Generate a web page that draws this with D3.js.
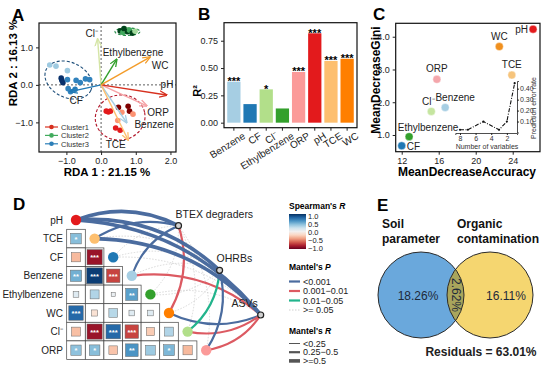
<!DOCTYPE html>
<html>
<head>
<meta charset="utf-8">
<script src="https://cdn.jsdelivr.net/npm/d3@7"></script>
<style>
  body { margin: 0; background: #fff; }
  svg { font-family: "Liberation Sans", Arial, sans-serif; }
</style>
</head>
<body>
<div id="chart"></div>
<script>
// ---------------- data ----------------
// shared variable order (panels B and C) and the Paired palette
var vars = ["Benzene", "CF", "Cl⁻", "Ethylbenzene", "ORP", "pH", "TCE", "WC"];
var varColors = ["#a6cee3", "#1f78b4", "#b2df8a", "#33a02c", "#fb9a99", "#e31a1c", "#fdbf6f", "#ff7f00"];

// A: RDA biplot arrows (end points) and label spots, data units
var arrowX = [0.74, -0.89, -0.10, 0.45, 1.32, 1.89, 0.78, 1.41];
var arrowY = [-1.01, -0.18, 1.22, 0.68, -0.56, -0.27, -1.47, 0.74];
var arrowLabelX = [1.53, -0.72, -0.27, 0.92, 1.64, 1.90, 0.42, 1.70];
var arrowLabelY = [-1.04, -0.40, 1.38, 0.89, -0.71, 0.02, -1.57, 0.53];
var clusters = ["Cluster1", "Cluster2", "Cluster3"];
var ptX = [0.15, 0.21, 0.27, 0.50, 0.60, 0.78, 0.82, 0.92, 0.42, 0.55, 0.48,
           0.55, 0.63, 0.70, 0.76, 0.82, 0.90, 0.98, 0.66,
           -1.48, -1.30, -0.97, -1.15, -1.13, -1.10, -0.97, -0.72, -0.45, -0.33, -0.95, -0.88, -0.60, -0.75];
var ptY = [-0.70, -0.72, -0.70, -0.60, -0.73, -0.57, -0.70, -0.78, -1.15, -1.21, -0.95,
           1.44, 1.40, 1.48, 1.42, 1.46, 1.38, 1.43, 1.50,
           0.53, 0.50, 0.38, 0.18, 0.12, 0.06, 0.14, 0.12, 0.16, 0.14, -0.10, -0.18, 0.06, -0.12];
var ptCluster = [0,0,0,0,0,0,0,0,0,0,0, 1,1,1,1,1,1,1,1, 2,2,2,2,2,2,2,2,2,2,2,2,2,2];
var ptShade = [1,1,1,2,0,2,2,0,1,1,0, 2,1,0,2,1,2,0,2, 0,0,0,2,2,2,1,1,1,1,1,1,1,1];
var ellCx = [0.55, 0.76, -0.94];
var ellCy = [-0.87, 1.42, 0.13];
var ellRx = [0.72, 0.36, 0.71];
var ellRy = [0.60, 0.10, 0.47];
var ellAngle = [-12, 0, 25];

// B: R2 of environmental fit
var r2 = [0.375, 0.17, 0.305, 0.13, 0.464, 0.818, 0.565, 0.585];
var r2Sig = ["***", "", "*", "", "***", "***", "***", "***"];

// C: random forest importance
var meanDecAcc = [16.7, 12.0, 15.2, 12.8, 15.8, 26.2, 23.9, 22.55];
var meanDecGini = [1.84, 0.67, 1.72, 0.95, 2.70, 4.23, 2.83, 3.70];
var nVariables = [8, 7, 5, 3, 2, 1];
var errorRate = [0.025, 0.025, 0.10, 0.025, 0.10, 0.45];

// D: Spearman matrix (lower triangle) and Mantel links
var dVars = ["pH", "TCE", "CF", "Benzene", "Ethylbenzene", "WC", "Cl⁻", "ORP"];
var dColors = ["#e31a1c", "#fdbf6f", "#1f78b4", "#a6cee3", "#33a02c", "#ff7f00", "#b2df8a", "#fb9a99"];
var corrR = [
  [],
  [0.42],
  [-0.32, -0.86],
  [0.48, 0.95, -0.68],
  [0.12, 0.30, 0.06, 0.55],
  [0.78, -0.14, 0.28, 0.12, 0.12],
  [-0.30, -0.86, 0.78, -0.68, -0.25, 0.30],
  [0.40, 0.42, -0.28, 0.60, 0.36, 0.45, -0.32]
];
var corrSig = [
  [],
  ["*"],
  ["", "***"],
  ["**", "***", "***"],
  ["", "", "", "**"],
  ["***", "", "", "", ""],
  ["", "***", "***", "***", "", ""],
  ["*", "*", "", "**", "", "*", ""]
];
var nodes = ["BTEX degraders", "OHRBs", "ASVs"];
var pClasses = ["<0.001", "0.001\u22120.01", "0.01\u22120.05", ">= 0.05"];
var rClasses = ["<0.25", "0.25\u22120.5", ">=0.5"];
// [variable, node, P class index, R class index]
var mantelLinks = [
  ["pH", "BTEX degraders", 0, 2], ["pH", "OHRBs", 0, 2], ["pH", "ASVs", 0, 2],
  ["TCE", "BTEX degraders", 0, 1], ["TCE", "OHRBs", 3, 0], ["TCE", "ASVs", 0, 2],
  ["CF", "BTEX degraders", 3, 0], ["CF", "OHRBs", 3, 0], ["CF", "ASVs", 3, 0],
  ["Benzene", "BTEX degraders", 0, 1], ["Benzene", "OHRBs", 3, 0], ["Benzene", "ASVs", 1, 1],
  ["Ethylbenzene", "BTEX degraders", 3, 0], ["Ethylbenzene", "OHRBs", 3, 0], ["Ethylbenzene", "ASVs", 3, 0],
  ["WC", "BTEX degraders", 1, 1], ["WC", "OHRBs", 3, 0], ["WC", "ASVs", 0, 1],
  ["Cl⁻", "BTEX degraders", 3, 0], ["Cl⁻", "OHRBs", 2, 1], ["Cl⁻", "ASVs", 1, 1],
  ["ORP", "BTEX degraders", 3, 0], ["ORP", "OHRBs", 0, 1], ["ORP", "ASVs", 1, 1]
];

// E: variation partitioning
var vpSets = ["Soil parameter", "Organic contamination"];
var vpUnique = [18.26, 16.11];
var vpShared = 2.62;
var vpResidual = 63.01;

// ---------------- drawing ----------------
var W = 559, H = 370;
var svg = d3.select("#chart").append("svg").attr("width", W).attr("height", H);
svg.append("rect").attr("width", W).attr("height", H).attr("fill", "#fff");
var defs = svg.append("defs");

function panelLabel(t, x, y) {
  svg.append("text").attr("x", x).attr("y", y)
    .attr("font-size", 17).attr("font-weight", "bold").text(t);
}
function styleAxis(g) {
  g.select(".domain").remove();
  g.selectAll("text").attr("font-size", 9).attr("fill", "#222");
  g.selectAll("line").attr("stroke", "#222");
}

// ===== A =====
panelLabel("A", 12, 21);
var xA = d3.scaleLinear().domain([-1.79, 2.16]).range([39, 176]);
var yA = d3.scaleLinear().domain([-1.79, 1.65]).range([152, 23]);
var gA = svg.append("g");
var clusterShades = [["#fc9272", "#e31a1c", "#7f0000"], ["#a1d99b", "#41ab5d", "#00441b"], ["#9ecae1", "#3182bd", "#08306b"]];
var clusterLine = ["#d7301f", "#41ab5d", "#2c7fb8"];
var ellStroke = ["#b2182b", "#238b45", "#1d4e7a"];

gA.append("line").attr("x1", xA(0)).attr("x2", xA(0)).attr("y1", yA(-1.79)).attr("y2", yA(1.65))
  .attr("stroke", "#333").attr("stroke-width", 0.8).attr("stroke-dasharray", "2,2");
gA.append("line").attr("x1", xA(-1.79)).attr("x2", xA(2.16)).attr("y1", yA(0)).attr("y2", yA(0))
  .attr("stroke", "#333").attr("stroke-width", 0.8).attr("stroke-dasharray", "2,2");

clusters.forEach(function(c, i) {
  var rx = xA(ellRx[i]) - xA(0), ry = yA(0) - yA(ellRy[i]);
  gA.append("ellipse")
    .attr("transform", "translate(" + xA(ellCx[i]) + "," + yA(ellCy[i]) + ") rotate(" + ellAngle[i] + ")")
    .attr("rx", rx).attr("ry", ry)
    .attr("fill", "none").attr("stroke", ellStroke[i]).attr("stroke-width", 1.1)
    .attr("stroke-dasharray", "3,2");
});

gA.selectAll(".pt").data(ptX).enter().append("circle")
  .attr("cx", function(d) { return xA(d); })
  .attr("cy", function(d, i) { return yA(ptY[i]); })
  .attr("r", 2.8)
  .attr("fill", function(d, i) { return clusterShades[ptCluster[i]][ptShade[i]]; });

var arrowCols = ["#a6cee3", "#1f78b4", "#d5e5a6", "#33a02c", "#f6a3a6", "#d7301f", "#fdbf6f", "#f39c2a"];
vars.forEach(function(v, i) {
  defs.append("marker").attr("id", "ah" + i)
    .attr("viewBox", "0 0 10 10").attr("refX", 9).attr("refY", 5)
    .attr("markerUnits", "userSpaceOnUse").attr("markerWidth", 8).attr("markerHeight", 8)
    .attr("orient", "auto")
    .append("path").attr("d", "M0,1 L10,5 L0,9").attr("fill", "none")
    .attr("stroke", arrowCols[i]).attr("stroke-width", 1.6);
});
gA.selectAll(".arrow").data(arrowX).enter().append("line")
  .attr("x1", xA(0)).attr("y1", yA(0))
  .attr("x2", function(d) { return xA(d); })
  .attr("y2", function(d, i) { return yA(arrowY[i]); })
  .attr("stroke", function(d, i) { return arrowCols[i]; })
  .attr("stroke-width", 1.4)
  .attr("marker-end", function(d, i) { return "url(#ah" + i + ")"; });
gA.selectAll(".alab").data(vars).enter().append("text")
  .attr("x", function(d, i) { return xA(arrowLabelX[i]); })
  .attr("y", function(d, i) { return yA(arrowLabelY[i]) + 4; })
  .attr("text-anchor", "middle").attr("font-size", 10).attr("fill", "#222")
  .text(function(d) { return d; });

gA.append("rect").attr("x", 39).attr("y", 23).attr("width", 137).attr("height", 129)
  .attr("fill", "none").attr("stroke", "#111").attr("stroke-width", 1.2);
gA.append("g").attr("transform", "translate(0,152)")
  .call(d3.axisBottom(xA).tickValues([-1, 0, 1, 2]).tickSize(3)).call(styleAxis);
gA.append("g").attr("transform", "translate(39,0)")
  .call(d3.axisLeft(yA).tickValues([-1, 0, 1]).tickSize(3)).call(styleAxis);
gA.append("text").attr("x", 107).attr("y", 176).attr("text-anchor", "middle")
  .attr("font-size", 11.5).attr("font-weight", "bold").text("RDA 1 : 21.15 %");
gA.append("text").attr("transform", "translate(17,63) rotate(-90)").attr("text-anchor", "middle")
  .attr("font-size", 11.5).attr("font-weight", "bold").text("RDA 2 : 16.13 %");

var legA = gA.append("g").attr("transform", "translate(45,127)");
clusters.forEach(function(c, i) {
  var row = legA.append("g").attr("transform", "translate(0," + (i * 8.4) + ")");
  row.append("line").attr("x1", 0).attr("x2", 13).attr("stroke", clusterLine[i]).attr("stroke-width", 1.2);
  row.append("circle").attr("cx", 6.5).attr("r", 2.3).attr("fill", clusterLine[i]);
  row.append("text").attr("x", 16).attr("y", 2.8).attr("font-size", 7.5).attr("fill", "#333").text(c);
});

// ===== B =====
panelLabel("B", 198, 20);
var xB = d3.scaleBand().domain(vars).range([224, 357]).paddingInner(0.18).paddingOuter(0.2);
var yB = d3.scaleLinear().domain([-0.046, 0.915]).range([127.7, 22.7]);
var gB = svg.append("g");
gB.selectAll(".bar").data(vars).enter().append("rect")
  .attr("x", function(d) { return xB(d); })
  .attr("width", xB.bandwidth())
  .attr("y", function(d, i) { return yB(r2[i]); })
  .attr("height", function(d, i) { return yB(0) - yB(r2[i]); })
  .attr("fill", function(d, i) { return varColors[i]; });
gB.selectAll(".sig").data(vars).enter().append("text")
  .attr("x", function(d) { return xB(d) + xB.bandwidth() / 2; })
  .attr("y", function(d, i) { return yB(r2[i]) + 3.5; })
  .attr("text-anchor", "middle").attr("font-size", 11).attr("font-weight", "bold")
  .text(function(d, i) { return r2Sig[i]; });
gB.append("rect").attr("x", 224).attr("y", 22.7).attr("width", 133).attr("height", 105)
  .attr("fill", "none").attr("stroke", "#111").attr("stroke-width", 1.2);
gB.append("g").attr("transform", "translate(224,0)")
  .call(d3.axisLeft(yB).tickValues([0, 0.25, 0.5, 0.75]).tickFormat(d3.format(".2f")).tickSize(3))
  .call(styleAxis);
var xAxB = gB.append("g").attr("transform", "translate(0,127.7)")
  .call(d3.axisBottom(xB).tickSize(3)).call(styleAxis);
xAxB.selectAll("text").attr("font-size", 10)
  .attr("text-anchor", "end").attr("dx", "0.5em").attr("dy", "0.9em")
  .attr("transform", "rotate(-32)");
gB.append("text").attr("transform", "translate(201,91) rotate(-90)").attr("text-anchor", "middle")
  .attr("font-size", 11).attr("font-weight", "bold").text("R²");

// ===== C =====
panelLabel("C", 373, 20);
var xC = d3.scaleLinear().domain([11.35, 26.95]).range([395.7, 540]);
var yC = d3.scaleLinear().domain([0.49, 4.41]).range([151.7, 23.3]);
var gC = svg.append("g");
var cLabAnchor = ["middle", "start", "middle", "middle", "middle", "end", "middle", "middle"];
var cLabDx = [10, 5, -3, 19, 0, -5, 0, 0];
var cLabDy = [-6, 4, -6, -6, -7, 4, -7, -7];
var cPointCols = ["#a6cee3", "#1f78b4", "#c5e5a0", "#33a02c", "#f4a6ab", "#e31a1c", "#f6c47c", "#f0901e"];
gC.selectAll(".pt").data(vars).enter().append("circle")
  .attr("cx", function(d, i) { return xC(meanDecAcc[i]); })
  .attr("cy", function(d, i) { return yC(meanDecGini[i]); })
  .attr("r", 4)
  .attr("fill", function(d, i) { return cPointCols[i]; })
  .attr("stroke", "#fff").attr("stroke-opacity", 0.5).attr("stroke-width", 0.8);
gC.selectAll(".lab").data(vars).enter().append("text")
  .attr("x", function(d, i) { return xC(meanDecAcc[i]) + cLabDx[i]; })
  .attr("y", function(d, i) { return yC(meanDecGini[i]) + cLabDy[i]; })
  .attr("text-anchor", function(d, i) { return cLabAnchor[i]; })
  .attr("font-size", 10).attr("fill", "#222")
  .text(function(d) { return d; });
gC.append("rect").attr("x", 395.7).attr("y", 23.3).attr("width", 144.3).attr("height", 128.4)
  .attr("fill", "none").attr("stroke", "#111").attr("stroke-width", 1.2);
gC.append("g").attr("transform", "translate(0,151.7)")
  .call(d3.axisBottom(xC).tickValues([12, 16, 20, 24]).tickSize(3)).call(styleAxis);
gC.append("g").attr("transform", "translate(395.7,0)")
  .call(d3.axisLeft(yC).tickValues([1, 2, 3, 4]).tickSize(3)).call(styleAxis);
gC.append("text").attr("x", 467).attr("y", 176).attr("text-anchor", "middle")
  .attr("font-size", 12).attr("font-weight", "bold").text("MeanDecreaseAccuracy");
gC.append("text").attr("transform", "translate(380,80) rotate(-90)").attr("text-anchor", "middle")
  .attr("font-size", 12).attr("font-weight", "bold").text("MeanDecreaseGini");

// inset: prediction error vs number of variables
var xI = d3.scaleLinear().domain([8.6, 0.7]).range([455.3, 517]);
var yI = d3.scaleLinear().domain([0, 0.47]).range([132.5, 81]);
var gI = gC.append("g");
gI.append("path").datum(nVariables)
  .attr("d", d3.line().x(function(d) { return xI(d); }).y(function(d, i) { return yI(errorRate[i]); }))
  .attr("fill", "none").attr("stroke", "#111").attr("stroke-width", 1.1)
  .attr("stroke-dasharray", "4,1.5,1,1.5");
gI.selectAll(".ip").data(nVariables).enter().append("circle")
  .attr("cx", function(d) { return xI(d); })
  .attr("cy", function(d, i) { return yI(errorRate[i]); })
  .attr("r", 1.1).attr("fill", "#111");
var iax = gI.append("g").attr("transform", "translate(0,133)")
  .call(d3.axisBottom(xI).tickValues([8, 6, 4, 2]).tickSize(2).tickPadding(1));
var iay = gI.append("g").attr("transform", "translate(517,0)")
  .call(d3.axisRight(yI).tickValues([0.1, 0.2, 0.3, 0.4]).tickSize(2).tickPadding(1));
[iax, iay].forEach(function(g) {
  g.select(".domain").attr("stroke", "#222").attr("stroke-width", 0.8);
  g.selectAll("text").attr("font-size", 7).attr("fill", "#333");
  g.selectAll("line").attr("stroke", "#222");
});
gI.append("text").attr("x", 487).attr("y", 149).attr("text-anchor", "middle")
  .attr("font-size", 7).attr("fill", "#333").text("Number of variables");
gI.append("text").attr("transform", "translate(536,108) rotate(-90)").attr("text-anchor", "middle")
  .attr("font-size", 7).attr("fill", "#333").text("Prediction error rate");

// ===== D =====
panelLabel("D", 13, 210);
var gD = svg.append("g");
var xD = d3.scaleBand().domain(dVars).range([66.7, 215.5]);
var yD = d3.scaleBand().domain(dVars).range([210.7, 359.5]);
var bw = xD.bandwidth();
var rdbu = function(r) { return d3.interpolateRdBu((r + 1) / 2); };
var nodeX = d3.scalePoint().domain(nodes).range([178.5, 260.7]);
var nodeY = d3.scalePoint().domain(nodes).range([225.7, 315]);
var pColors = ["#4b6c9f", "#dc5a62", "#22b48c", "#cfcfcf"];
var rWidths = [1, 2.2, 3.6];

// mantel links (drawn first, under the matrix dots)
var centerD = [120, 300];
function curvePath(x1, y1, x2, y2) {
  var dx = x2 - x1, dy = y2 - y1, len = Math.sqrt(dx * dx + dy * dy);
  var mx = (x1 + x2) / 2, my = (y1 + y2) / 2;
  var px = dy / len, py = -dx / len;
  if ((mx - centerD[0]) * px + (my - centerD[1]) * py < 0) { px = -px; py = -py; }
  var h = 0.22 * len;
  return "M" + x1 + "," + y1 + "Q" + (mx + px * h) + "," + (my + py * h) + " " + x2 + "," + y2;
}
var linkOrder = mantelLinks.slice().sort(function(a, b) {
  return (b[2] === 3) - (a[2] === 3) || a[3] - b[3];
});
gD.selectAll(".link").data(linkOrder).enter().append("path")
  .attr("d", function(d) {
    return curvePath(xD(d[0]) + bw / 2, yD(d[0]) + bw / 2, nodeX(d[1]), nodeY(d[1]));
  })
  .attr("fill", "none")
  .attr("stroke", function(d) { return pColors[d[2]]; })
  .attr("stroke-width", function(d) { return d[2] === 3 ? 0.8 : rWidths[d[3]]; })
  .attr("stroke-dasharray", function(d) { return d[2] === 3 ? "1.5,1.5" : null; });

// correlation cells
var cells = [];
corrR.forEach(function(row, i) {
  row.forEach(function(r, j) { cells.push({ row: dVars[i], col: dVars[j], r: r, sig: corrSig[i][j] }); });
});
var cg = gD.selectAll(".cell").data(cells).enter().append("g")
  .attr("transform", function(d) { return "translate(" + xD(d.col) + "," + yD(d.row) + ")"; });
cg.append("rect").attr("width", bw).attr("height", bw)
  .attr("fill", "#fff").attr("stroke", "#444").attr("stroke-width", 0.7);
cg.append("rect")
  .attr("x", function(d) { return bw / 2 - bw * 0.44 * Math.sqrt(Math.abs(d.r)); })
  .attr("y", function(d) { return bw / 2 - bw * 0.44 * Math.sqrt(Math.abs(d.r)); })
  .attr("width", function(d) { return bw * 0.88 * Math.sqrt(Math.abs(d.r)); })
  .attr("height", function(d) { return bw * 0.88 * Math.sqrt(Math.abs(d.r)); })
  .attr("fill", function(d) { return rdbu(d.r); })
  .attr("stroke", "#666").attr("stroke-width", 0.5);
cg.append("text").attr("x", bw / 2).attr("y", bw / 2 + 3.2)
  .attr("text-anchor", "middle").attr("font-size", 7.5).attr("font-weight", "bold")
  .attr("fill", "#fff").text(function(d) { return d.sig; });

// diagonal dots and row labels
gD.selectAll(".dot").data(dVars).enter().append("circle")
  .attr("cx", function(d) { return xD(d) + bw / 2; })
  .attr("cy", function(d) { return yD(d) + bw / 2; })
  .attr("r", 5.2)
  .attr("fill", function(d, i) { return dColors[i]; });
gD.selectAll(".rlab").data(dVars).enter().append("text")
  .attr("x", 63).attr("y", function(d) { return yD(d) + bw / 2 + 3.6; })
  .attr("text-anchor", "end").attr("font-size", 10).attr("fill", "#222")
  .text(function(d) { return d; });

// nodes
gD.selectAll(".node").data(nodes).enter().append("circle")
  .attr("cx", function(d) { return nodeX(d); })
  .attr("cy", function(d) { return nodeY(d); })
  .attr("r", 3).attr("fill", "#d0d0d0").attr("stroke", "#222").attr("stroke-width", 1.2);
var nodeAnchor = ["start", "start", "end"];
var nodeDx = [-3, -3, -3];
gD.selectAll(".nlab").data(nodes).enter().append("text")
  .attr("x", function(d, i) { return nodeX(d) + nodeDx[i]; })
  .attr("y", function(d) { return nodeY(d) - 8; })
  .attr("text-anchor", function(d, i) { return nodeAnchor[i]; })
  .attr("font-size", 10.5).attr("fill", "#222")
  .text(function(d) { return d; });

// legends for D
var lg = gD.append("g").attr("transform", "translate(289,0)");
var t1 = lg.append("text").attr("y", 209).attr("font-size", 8.5).attr("font-weight", "bold");
t1.append("tspan").text("Spearman's ");
t1.append("tspan").attr("font-style", "italic").text("R");
var grad = defs.append("linearGradient").attr("id", "rdbuGrad")
  .attr("x1", 0).attr("x2", 0).attr("y1", 0).attr("y2", 1);
d3.range(0, 1.0001, 0.1).forEach(function(t) {
  grad.append("stop").attr("offset", t).attr("stop-color", d3.interpolateRdBu(1 - t));
});
var yLeg = d3.scaleLinear().domain([1, -1]).range([216, 248]);
lg.append("rect").attr("x", 0).attr("y", 214).attr("width", 17).attr("height", 35).attr("fill", "url(#rdbuGrad)");
lg.selectAll(".clab").data([1, 0.5, 0, -0.5, -1]).enter().append("text")
  .attr("x", 19).attr("y", function(d) { return yLeg(d) + 2.8; })
  .attr("font-size", 7.5).attr("fill", "#222")
  .text(function(d) { return d3.format(".1f")(d).replace("-", "\u2212"); });

var t2 = lg.append("text").attr("y", 270).attr("font-size", 8.5).attr("font-weight", "bold");
t2.append("tspan").text("Mantel's ");
t2.append("tspan").attr("font-style", "italic").text("P");
pClasses.forEach(function(p, i) {
  var y = 281.5 + i * 9.5;
  lg.append("line").attr("x1", 0).attr("x2", 11).attr("y1", y).attr("y2", y)
    .attr("stroke", pColors[i]).attr("stroke-width", i === 3 ? 1 : 2.2)
    .attr("stroke-dasharray", i === 3 ? "1.5,1.5" : null);
  lg.append("text").attr("x", 14).attr("y", y + 3.2).attr("font-size", 9).attr("fill", "#222").text(p);
});
var t3 = lg.append("text").attr("y", 334).attr("font-size", 8.5).attr("font-weight", "bold");
t3.append("tspan").text("Mantel's ");
t3.append("tspan").attr("font-style", "italic").text("R");
rClasses.forEach(function(r, i) {
  var y = 343.5 + i * 8.7;
  lg.append("line").attr("x1", 0).attr("x2", 11).attr("y1", y).attr("y2", y)
    .attr("stroke", "#555").attr("stroke-width", rWidths[i]);
  lg.append("text").attr("x", 14).attr("y", y + 3.2).attr("font-size", 9).attr("fill", "#222").text(r);
});

// ===== E =====
panelLabel("E", 377, 211);
var gE = svg.append("g");
var xE = d3.scalePoint().domain(vpSets).range([421, 490]);
var cyE = 295, rE = 43;
var vennFill = ["#6aa8dc", "#f5d670"];
vpSets.forEach(function(s, i) {
  gE.append("circle").attr("cx", xE(s)).attr("cy", cyE).attr("r", rE)
    .attr("fill", vennFill[i]);
});
defs.append("clipPath").attr("id", "leftClip").append("circle")
  .attr("cx", xE(vpSets[0])).attr("cy", cyE).attr("r", rE);
gE.append("circle").attr("cx", xE(vpSets[1])).attr("cy", cyE).attr("r", rE)
  .attr("clip-path", "url(#leftClip)").attr("fill", "#a9a55c");
vpSets.forEach(function(s) {
  gE.append("circle").attr("cx", xE(s)).attr("cy", cyE).attr("r", rE)
    .attr("fill", "none").attr("stroke", "#2a2a2a").attr("stroke-width", 1);
});
var titleLines = [["Soil", "parameter"], ["Organic", "contamination"]];
var titleX = [382, 457];
titleLines.forEach(function(lines, i) {
  lines.forEach(function(l, k) {
    gE.append("text").attr("x", titleX[i]).attr("y", 228 + k * 15)
      .attr("font-size", 12).attr("font-weight", "bold").attr("fill", "#111").text(l);
  });
});
var uniqDx = [-3, 16];
vpSets.forEach(function(s, i) {
  gE.append("text").attr("x", xE(s) + uniqDx[i]).attr("y", cyE + 4.5)
    .attr("text-anchor", "middle").attr("font-size", 12).attr("fill", "#1e2a3a")
    .text(d3.format(".2f")(vpUnique[i]) + "%");
});
var midE = (xE(vpSets[0]) + xE(vpSets[1])) / 2;
gE.append("text").attr("transform", "translate(" + (midE - 4) + "," + cyE + ") rotate(90)")
  .attr("text-anchor", "middle").attr("font-size", 12).attr("fill", "#1e2a3a")
  .text(d3.format(".2f")(vpShared) + "%");
gE.append("text").attr("x", 481).attr("y", 356).attr("text-anchor", "middle")
  .attr("font-size", 12).attr("font-weight", "bold").attr("fill", "#222")
  .text("Residuals = " + d3.format(".2f")(vpResidual) + "%");
</script>
</body>
</html>
